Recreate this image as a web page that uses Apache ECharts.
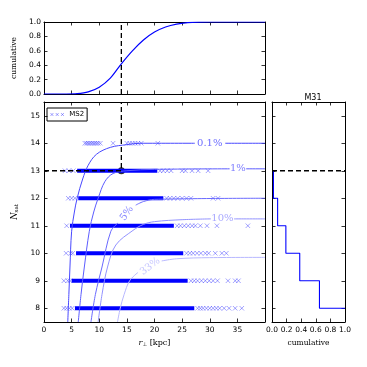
<!DOCTYPE html>
<html>
<head>
<meta charset="utf-8">
<script src="https://cdn.jsdelivr.net/npm/echarts@6/dist/echarts.min.js"></script>
<style>
  html, body { margin: 0; padding: 0; background: #fff; }
  #chart { width: 367px; height: 367px; }
</style>
</head>
<body>
<div id="chart"></div>
<script>
// cumulative distribution of r_perp (top panel)
const cdfR = [0, 4, 6, 8, 10, 12, 14, 16, 18, 20, 22, 24, 26, 28, 30, 40];
const cdfVal = [0, 0, 0.005, 0.03, 0.095, 0.22, 0.42, 0.6, 0.75, 0.86, 0.93, 0.97, 0.99, 0.998, 1, 1];

// MS2 satellites: rows of N_sat, dense band extents and loose markers
const nsatRows = [8, 9, 10, 11, 12, 13, 14];
const denseStart = [5.6, 5.0, 5.8, 4.7, 6.2, 6.0, null];
const denseEnd = [27.2, 26.0, 25.2, 23.5, 21.6, 20.5, null];
const ms2Row8 = [3.6, 4.1, 4.6, 5.1, 27.8, 28.3, 28.8, 29.4, 30.0, 30.6, 31.2, 31.8, 32.6, 33.5, 34.6, 35.8];
const ms2Row9 = [3.6, 4.3, 4.7, 26.6, 27.2, 27.8, 28.5, 29.2, 29.9, 30.6, 31.4, 33.3, 34.6, 35.2];
const ms2Row10 = [4.0, 4.8, 5.2, 25.8, 26.4, 27.0, 27.7, 28.4, 29.2, 29.8, 31.0, 32.2, 33.0];
const ms2Row11 = [4.1, 24.1, 24.7, 25.4, 26.1, 26.8, 27.4, 28.3, 29.5, 31.3, 36.9];
const ms2Row12 = [4.4, 5.0, 5.6, 22.2, 22.8, 23.5, 24.2, 25.0, 25.8, 26.6, 30.6, 31.5];
const ms2Row13 = [3.8, 4.5, 5.3, 21.0, 21.6, 22.3, 23.0, 25.0, 25.6, 26.8, 27.9, 29.7];
const ms2Row14 = [7.4, 7.7, 8.0, 8.3, 8.6, 8.9, 9.2, 9.5, 9.8, 10.2, 12.5, 15.0, 15.5, 16.0, 16.5, 17.0, 17.6, 20.6];
const ms2Rows = [ms2Row8, ms2Row9, ms2Row10, ms2Row11, ms2Row12, ms2Row13, ms2Row14];

// probability contours, '-' marks the gap left for the inline label
const contour01 = [[4.3, 7.5], [4.5, 8.5], [4.7, 9.5], [5.0, 10.8], [5.5, 11.5], [6.0, 12], [7.0, 12.7], [8.0, 13.2], [9.5, 13.6], [12, 13.85], [15, 13.95], [17.4, 14.0], [27.3, 14.0], ['-', '-'], [32.8, 14.0], [40, 14.0]];
const contour1 = [[6.2, 7.5], [6.7, 8.5], [7.3, 9.5], [8.2, 10.8], [9.0, 11.5], [9.8, 12], [11, 12.6], [12.5, 12.9], [15, 13.0], [20, 13.05], [33.6, 13.07], ['-', '-'], [36.6, 13.07], [40, 13.07]];
const contour5 = [[8.5, 7.5], [9.3, 8.5], [10.5, 9.5], [12.1, 10.8], [13.4, 11.1], ['-', '-'], [16.6, 11.75], [18, 11.88], [20, 11.96], [40, 12.0]];
const contour10 = [[9.8, 7.5], [10.5, 8.5], [11.5, 9.5], [13, 10.3], [16.1, 10.83], [18, 11.05], [20, 11.15], [25, 11.22], [30.2, 11.25], ['-', '-'], [34.4, 11.25], [40, 11.25]];
const contour33 = [[13.3, 7.5], [13.8, 8], [14.5, 8.5], [15.5, 9], [17, 9.3], ['-', '-'], [21.3, 9.72], [24, 9.8], [30, 9.84], [40, 9.85]];
const contourNames = ['0.1%', '1%', '5%', '10%', '33%'];
const contourLines = [contour01, contour1, contour5, contour10, contour33];
const contourColors = ['#4848ff', '#5c5cff', '#6a6aff', '#9292ff', '#b8b8ff'];
const contourLabelPos = [[30, 14.0], [35.1, 13.07], [15, 11.45], [32.3, 11.26], [19.2, 9.52]];
const contourLabelRot = [0, 0, 55, 0, 38];

// M31 cumulative step
const m31N = [13, 12, 11, 10, 9, 8];
const m31Cum = [0.02, 0.077, 0.19, 0.38, 0.65, 1.0];

// observed point
const rObs = 14;
const nObs = 13;

const yTicks = [8, 9, 10, 11, 12, 13, 14, 15];

const chart = echarts.init(document.getElementById('chart'));

const tickFont = { fontFamily: 'DejaVu Sans', fontSize: 7.5, color: '#000' };
const nameFont = { fontFamily: 'DejaVu Serif', fontSize: 7.5, color: '#000' };

function frameAxis(extra) {
  return Object.assign({
    type: 'value',
    axisLine: { show: true, onZero: false, lineStyle: { color: '#000', width: 1 } },
    axisTick: { show: true, inside: true, length: 3.5, lineStyle: { color: '#000', width: 0.8 } },
    axisLabel: { show: false },
    splitLine: { show: false }
  }, extra);
}

const crossPath = 'path://M0,0L10,10M0,10L10,0';

let denseData = [];
let sparseData = [];
nsatRows.forEach(function (n, i) {
  if (denseStart[i] !== null) {
    denseData.push([denseStart[i], n], [denseEnd[i], n], ['-', '-']);
  }
  ms2Rows[i].forEach(function (r) { sparseData.push([r, n]); });
});

let stepData = [];
m31N.forEach(function (n, i) {
  stepData.push([m31Cum[i], n]);
  if (i + 1 < m31N.length) stepData.push([m31Cum[i], m31N[i + 1]]);
});

let series = [];

series.push({
  type: 'line', xAxisIndex: 0, yAxisIndex: 0, symbol: 'none', smooth: 0.3,
  data: cdfR.map(function (r, i) { return [r, cdfVal[i]]; }),
  lineStyle: { color: '#0000ff', width: 1.2 }
});
series.push({
  type: 'line', xAxisIndex: 0, yAxisIndex: 0, symbol: 'none',
  data: [[rObs, 0], [rObs, 1]],
  lineStyle: { color: '#000', width: 1.3, type: [5, 3] }
});

series.push({
  type: 'line', xAxisIndex: 2, yAxisIndex: 2, symbol: 'none',
  data: denseData,
  lineStyle: { color: '#0000ff', width: 4, cap: 'butt' }
});
series.push({
  name: 'MS2', type: 'scatter', xAxisIndex: 2, yAxisIndex: 2,
  symbol: crossPath, symbolSize: 4.5,
  data: sparseData,
  itemStyle: { color: 'transparent', borderColor: 'rgba(0,0,255,0.5)', borderWidth: 0.9 }
});

contourLines.forEach(function (pts, i) {
  series.push({
    type: 'line', xAxisIndex: 2, yAxisIndex: 2, symbol: 'none', smooth: 0.35,
    connectNulls: false,
    data: pts,
    lineStyle: { color: contourColors[i], width: 1 }
  });
  series.push({
    type: 'scatter', xAxisIndex: 2, yAxisIndex: 2, symbolSize: 0,
    data: [contourLabelPos[i]],
    label: {
      show: true, position: 'inside', formatter: contourNames[i],
      rotate: contourLabelRot[i],
      fontFamily: 'DejaVu Serif', fontSize: 10, color: contourColors[i]
    }
  });
});

series.push({
  type: 'line', xAxisIndex: 2, yAxisIndex: 2, symbol: 'none',
  data: [[0, nObs], [rObs, nObs], [rObs, 15.5]],
  lineStyle: { color: '#000', width: 1.3, type: [5, 3] }
});
series.push({
  type: 'scatter', xAxisIndex: 2, yAxisIndex: 2, symbol: 'circle', symbolSize: 7,
  data: [[rObs, nObs]], itemStyle: { color: '#000' }
});

series.push({
  type: 'line', xAxisIndex: 4, yAxisIndex: 4, symbol: 'none',
  data: stepData,
  lineStyle: { color: '#0000ff', width: 1.1 }
});
series.push({
  type: 'line', xAxisIndex: 4, yAxisIndex: 4, symbol: 'none',
  data: [[0, nObs], [1, nObs]],
  lineStyle: { color: '#000', width: 1.3, type: [5, 3] }
});

const option = {
  animation: false,
  backgroundColor: '#fff',
  title: {
    text: 'M31', left: 308, top: 89, textAlign: 'center',
    textStyle: { fontFamily: 'DejaVu Sans', fontSize: 8, fontWeight: 'normal', color: '#000' }
  },
  legend: {
    data: ['MS2'], left: 47, top: 108,
    icon: 'path://M0,0L4,4M0,4L4,0M7,0L11,4M7,4L11,0M14,0L18,4M14,4L18,0',
    itemWidth: 14, itemHeight: 3, itemGap: 4,
    padding: [3, 3, 3, 3],
    borderColor: '#000', borderWidth: 1, borderRadius: 0,
    itemStyle: { color: 'transparent', borderColor: 'rgba(0,0,255,0.5)', borderWidth: 0.9 },
    textStyle: { fontFamily: 'DejaVu Sans', fontSize: 7, color: '#000' }
  },
  grid: [
    { left: 44, top: 22, width: 221, height: 72 },
    { left: 44, top: 102, width: 221, height: 220 },
    { left: 272, top: 102, width: 73, height: 220 }
  ],
  xAxis: [
    frameAxis({ gridIndex: 0, min: 0, max: 40, interval: 5, position: 'bottom' }),
    frameAxis({ gridIndex: 0, min: 0, max: 40, interval: 5, position: 'top' }),
    frameAxis({
      gridIndex: 1, min: 0, max: 40, interval: 5, position: 'bottom',
      axisLabel: Object.assign({ show: true, margin: 4, formatter: function (v) { return v === 40 ? '' : String(v); } }, tickFont),
      name: '{r|r}{s|⊥}{t| [kpc]}', nameLocation: 'middle', nameGap: 16,
      nameTextStyle: {
        rich: {
          r: { fontFamily: 'DejaVu Serif', fontStyle: 'italic', fontSize: 8, color: '#000' },
          s: { fontFamily: 'DejaVu Sans', fontSize: 5.5, color: '#000', padding: [4, 0, 0, 0] },
          t: { fontFamily: 'DejaVu Serif', fontSize: 8, color: '#000' }
        }
      }
    }),
    frameAxis({ gridIndex: 1, min: 0, max: 40, interval: 5, position: 'top' }),
    frameAxis({
      gridIndex: 2, min: 0, max: 1, interval: 0.2, position: 'bottom',
      axisLabel: Object.assign({ show: true, margin: 4, formatter: function (v) { return v.toFixed(1); } }, tickFont),
      name: 'cumulative', nameLocation: 'middle', nameGap: 16, nameTextStyle: nameFont
    }),
    frameAxis({ gridIndex: 2, min: 0, max: 1, interval: 0.2, position: 'top' })
  ],
  yAxis: [
    frameAxis({
      gridIndex: 0, min: 0, max: 1, interval: 0.2, position: 'left',
      axisLabel: Object.assign({ show: true, margin: 3, formatter: function (v) { return v.toFixed(1); } }, tickFont),
      name: 'cumulative', nameLocation: 'middle', nameGap: 22, nameRotate: 90, nameTextStyle: nameFont
    }),
    frameAxis({ gridIndex: 0, min: 0, max: 1, interval: 0.2, position: 'right' }),
    frameAxis({
      gridIndex: 1, min: 7.5, max: 15.5, position: 'left',
      axisTick: { show: true, inside: true, length: 3.5, customValues: yTicks, lineStyle: { color: '#000', width: 0.8 } },
      axisLabel: Object.assign({ show: true, margin: 4, customValues: yTicks }, tickFont),
      name: '{n|N}{s|sat}', nameLocation: 'middle', nameGap: 20, nameRotate: 90,
      nameTextStyle: {
        rich: {
          n: { fontFamily: 'DejaVu Serif', fontStyle: 'italic', fontSize: 8.5, color: '#000' },
          s: { fontFamily: 'DejaVu Serif', fontSize: 5.5, color: '#000', padding: [4, 0, 0, 0] }
        }
      }
    }),
    frameAxis({
      gridIndex: 1, min: 7.5, max: 15.5, position: 'right',
      axisTick: { show: true, inside: true, length: 3.5, customValues: yTicks, lineStyle: { color: '#000', width: 0.8 } }
    }),
    frameAxis({
      gridIndex: 2, min: 7.5, max: 15.5, position: 'left',
      axisTick: { show: true, inside: true, length: 3.5, customValues: yTicks, lineStyle: { color: '#000', width: 0.8 } }
    }),
    frameAxis({
      gridIndex: 2, min: 7.5, max: 15.5, position: 'right',
      axisTick: { show: true, inside: true, length: 3.5, customValues: yTicks, lineStyle: { color: '#000', width: 0.8 } }
    })
  ],
  series: series
};

chart.setOption(option);
</script>
</body>
</html>
